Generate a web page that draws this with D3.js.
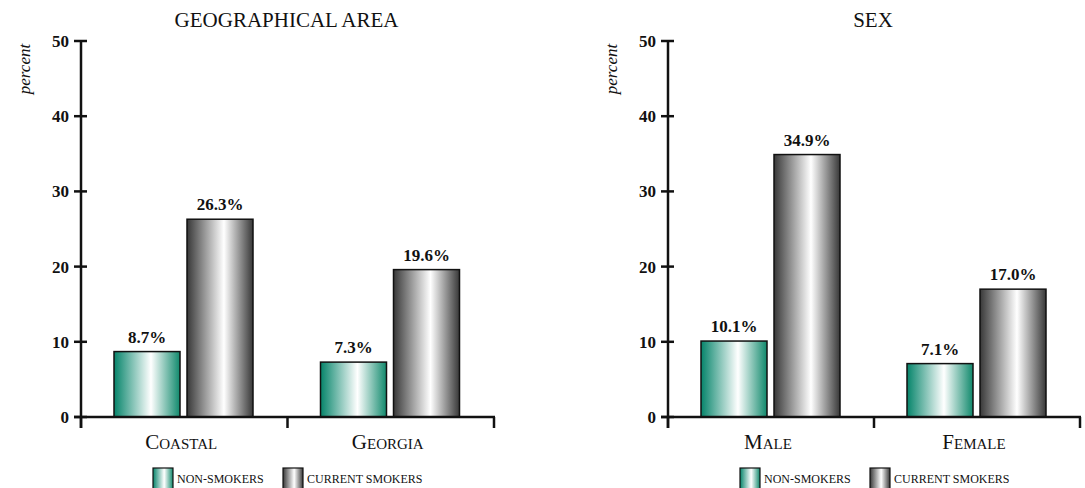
<!DOCTYPE html>
<html><head><meta charset="utf-8">
<script src="https://cdn.jsdelivr.net/npm/d3@7"></script>
<style>
body{margin:0;background:#fff;}
text{font-family:"Liberation Serif","DejaVu Serif",serif;fill:#111;}
</style></head>
<body><svg id="c" width="1085" height="488"></svg>
<script>
const series = ["Non-smokers", "Current smokers"];
const legendLabels = ["NON-SMOKERS", "CURRENT SMOKERS"];
const yTicks = [0, 10, 20, 30, 40, 50];

const geoTitle = "GEOGRAPHICAL AREA";
const geoCategories = ["Coastal", "Georgia"];
const geoNonSmokers = [8.7, 7.3];
const geoSmokers = [26.3, 19.6];

const sexTitle = "SEX";
const sexCategories = ["Male", "Female"];
const sexNonSmokers = [10.1, 7.1];
const sexSmokers = [34.9, 17.0];

const svg = d3.select("#c");
const defs = svg.append("defs");
function grad(id, edgeL, edgeR) {
  const g = defs.append("linearGradient").attr("id", id).attr("x1", "0%").attr("x2", "100%").attr("y1", "0%").attr("y2", "0%");
  g.append("stop").attr("offset", "0%").attr("stop-color", edgeL);
  g.append("stop").attr("offset", "56%").attr("stop-color", "#ffffff");
  g.append("stop").attr("offset", "100%").attr("stop-color", edgeR);
}
grad("gGreen", "#05846a", "#10896c");
grad("gGray", "#383838", "#383838");
const fills = ["url(#gGreen)", "url(#gGray)"];

function panel(x0, x1, title, cats, nonS, smk) {
  const g = svg.append("g");
  const y = d3.scaleLinear().domain([0, 50]).range([417, 41]);
  const x = d3.scaleBand().domain(cats).range([x0, x1]).paddingInner(0).paddingOuter(0);
  const xs = d3.scaleBand().domain(series).range([33, 172]).paddingInner(7 / 73).paddingOuter(0);
  const vals = [nonS, smk];

  // title
  g.append("text").attr("x", (x0 + x1) / 2 - 1).attr("y", 27).attr("text-anchor", "middle")
    .style("font-size", "21px").text(title);
  // y label
  g.append("text").attr("transform", `translate(${x0 - 51},69) rotate(-90)`).attr("text-anchor", "middle")
    .style("font-size", "17px").style("font-style", "italic").text("percent");

  // bars
  cats.forEach((c, i) => {
    series.forEach((s, j) => {
      const v = vals[j][i];
      const bx = x(c) + xs(s);
      g.append("rect").attr("x", bx).attr("y", y(v)).attr("width", xs.bandwidth()).attr("height", y(0) - y(v))
        .attr("fill", fills[j]).attr("stroke", "#111").attr("stroke-width", 1.5);
      g.append("text").attr("x", bx + xs.bandwidth() / 2).attr("y", y(v) - 9).attr("text-anchor", "middle")
        .style("font-size", "17px").style("font-weight", "bold").text(v.toFixed(1) + "%");
    });
    g.append("text").attr("x", x(c) + x.bandwidth() / 2 - 3).attr("y", 449).attr("text-anchor", "middle")
      .style("font-size", "21px").style("font-variant", "small-caps").text(c);
  });

  // y axis
  const ya = d3.axisLeft(y).tickValues(yTicks).tickSize(0).tickPadding(12);
  const yg = g.append("g").attr("transform", `translate(${x0},0)`).call(ya);
  yg.select(".domain").remove();
  yg.selectAll(".tick text").style("font-size", "17px").style("font-weight", "bold")
    .style("font-family", "'Liberation Serif',serif").attr("fill", "#111");
  yTicks.forEach(t => {
    g.append("line").attr("x1", x0 - 7).attr("x2", x0 + 6).attr("y1", y(t)).attr("y2", y(t))
      .attr("stroke", "#111").attr("stroke-width", 2.5);
  });
  g.append("line").attr("x1", x0).attr("x2", x0).attr("y1", y(50) - 1).attr("y2", 428)
    .attr("stroke", "#111").attr("stroke-width", 2.5);
  // x axis
  g.append("line").attr("x1", x0 - 7).attr("x2", x1 + 1).attr("y1", y(0)).attr("y2", y(0))
    .attr("stroke", "#111").attr("stroke-width", 2.5);
  const bounds = [x0].concat(cats.map(c => x(c) + x.bandwidth()));
  bounds.forEach(b => {
    g.append("line").attr("x1", b).attr("x2", b).attr("y1", y(0)).attr("y2", 428)
      .attr("stroke", "#111").attr("stroke-width", 2.5);
  });

  // legend
  const lx = [x0 + 72, x0 + 202];
  legendLabels.forEach((l, j) => {
    g.append("rect").attr("x", lx[j]).attr("y", 468).attr("width", 20).attr("height", 22)
      .attr("fill", fills[j]).attr("stroke", "#111").attr("stroke-width", 1.2);
    g.append("text").attr("x", lx[j] + 24).attr("y", 483).style("font-size", "12px").text(l);
  });
}

panel(81, 494, geoTitle, geoCategories, geoNonSmokers, geoSmokers);
panel(668, 1080, sexTitle, sexCategories, sexNonSmokers, sexSmokers);
</script></body></html>
